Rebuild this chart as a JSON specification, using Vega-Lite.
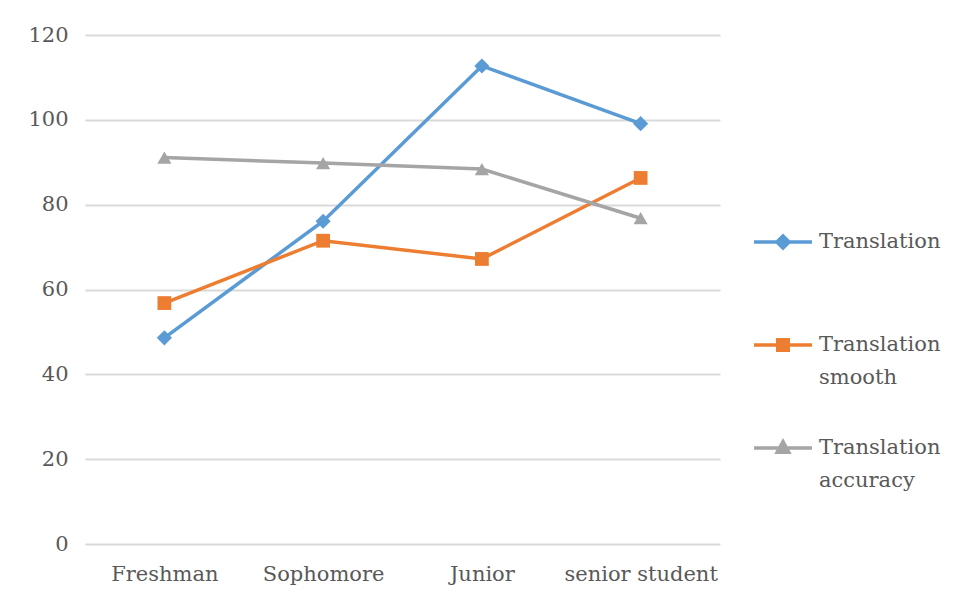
{
  "$schema": "https://vega.github.io/schema/vega-lite/v6.json",
  "width": 635,
  "height": 509,
  "autosize": {"type": "none"},
  "padding": {"left": 85, "top": 35, "right": 238, "bottom": 68},
  "background": "white",
  "config": {
    "view": {"stroke": null},
    "font": "DejaVu Serif",
    "axis": {"labelFont": "DejaVu Serif", "labelFontSize": 21, "labelColor": "#595959", "gridColor": "#D9D9D9", "gridWidth": 2, "domainColor": "#D9D9D9", "domainWidth": 2, "ticks": false}
  },
  "data": {"values": [
    {"grade": "Freshman", "series": "Translation", "value": 48.6},
    {"grade": "Sophomore", "series": "Translation", "value": 76.1},
    {"grade": "Junior", "series": "Translation", "value": 112.7},
    {"grade": "senior student", "series": "Translation", "value": 99.1},
    {"grade": "Freshman", "series": "Translation smooth", "value": 56.8},
    {"grade": "Sophomore", "series": "Translation smooth", "value": 71.5},
    {"grade": "Junior", "series": "Translation smooth", "value": 67.2},
    {"grade": "senior student", "series": "Translation smooth", "value": 86.3},
    {"grade": "Freshman", "series": "Translation accuracy", "value": 91.1},
    {"grade": "Sophomore", "series": "Translation accuracy", "value": 89.8},
    {"grade": "Junior", "series": "Translation accuracy", "value": 88.4},
    {"grade": "senior student", "series": "Translation accuracy", "value": 76.8}
  ]},
  "encoding": {
    "x": {"field": "grade", "type": "nominal", "sort": ["Freshman", "Sophomore", "Junior", "senior student"],
      "scale": {"type": "point", "padding": 0.5},
      "axis": {"title": null, "labelAngle": 0, "labelPadding": 19, "grid": false, "domain": false}},
    "y": {"field": "value", "type": "quantitative", "scale": {"domain": [0, 120]},
      "axis": {"title": null, "values": [0, 20, 40, 60, 80, 100, 120], "labelPadding": 17, "domain": false}},
    "color": {"field": "series", "type": "nominal",
      "scale": {"domain": ["Translation", "Translation smooth", "Translation accuracy"], "range": ["#5B9BD5", "#ED7D31", "#A5A5A5"]},
      "legend": {
        "title": null, "orient": "none", "legendX": 667, "legendY": 176,
        "labelFont": "DejaVu Serif", "labelFontSize": 21, "labelColor": "#595959", "labelLimit": 0,
        "labelExpr": "datum.label === 'Translation' ? ['Translation', ' '] : split(datum.label, ' ')",
        "symbolSize": 3364, "symbolStrokeWidth": 3.5, "labelOffset": 5, "rowPadding": 29,
        "encode": {
          "symbols": {"update": {
            "shape": {"signal": "datum.value === 'Translation' ? 'M-1,0H1M0,-0.21L0.21,0L0,0.21L-0.21,0Z' : datum.value === 'Translation smooth' ? 'M-1,0H1M-0.18,-0.18H0.18V0.18H-0.18Z' : 'M-1,0H1M0,-0.22L0.2,0.15H-0.2Z'"},
            "fill": {"scale": "color", "field": "value"},
            "stroke": {"scale": "color", "field": "value"},
            "opacity": {"value": 1}
          }},
          "labels": {"update": {"lineHeight": {"value": 33}}}
        }
      }}
  },
  "layer": [
    {"mark": {"type": "line", "strokeWidth": 3.5}},
    {"transform": [{"filter": "datum.series === 'Translation'"}],
      "mark": {"type": "point", "filled": true, "opacity": 1, "size": 230, "shape": "diamond"}},
    {"transform": [{"filter": "datum.series === 'Translation smooth'"}],
      "mark": {"type": "point", "filled": true, "opacity": 1, "size": 190, "shape": "square"}},
    {"transform": [{"filter": "datum.series === 'Translation accuracy'"}],
      "mark": {"type": "point", "filled": true, "opacity": 1, "size": 200, "shape": "triangle-up"}}
  ]
}
